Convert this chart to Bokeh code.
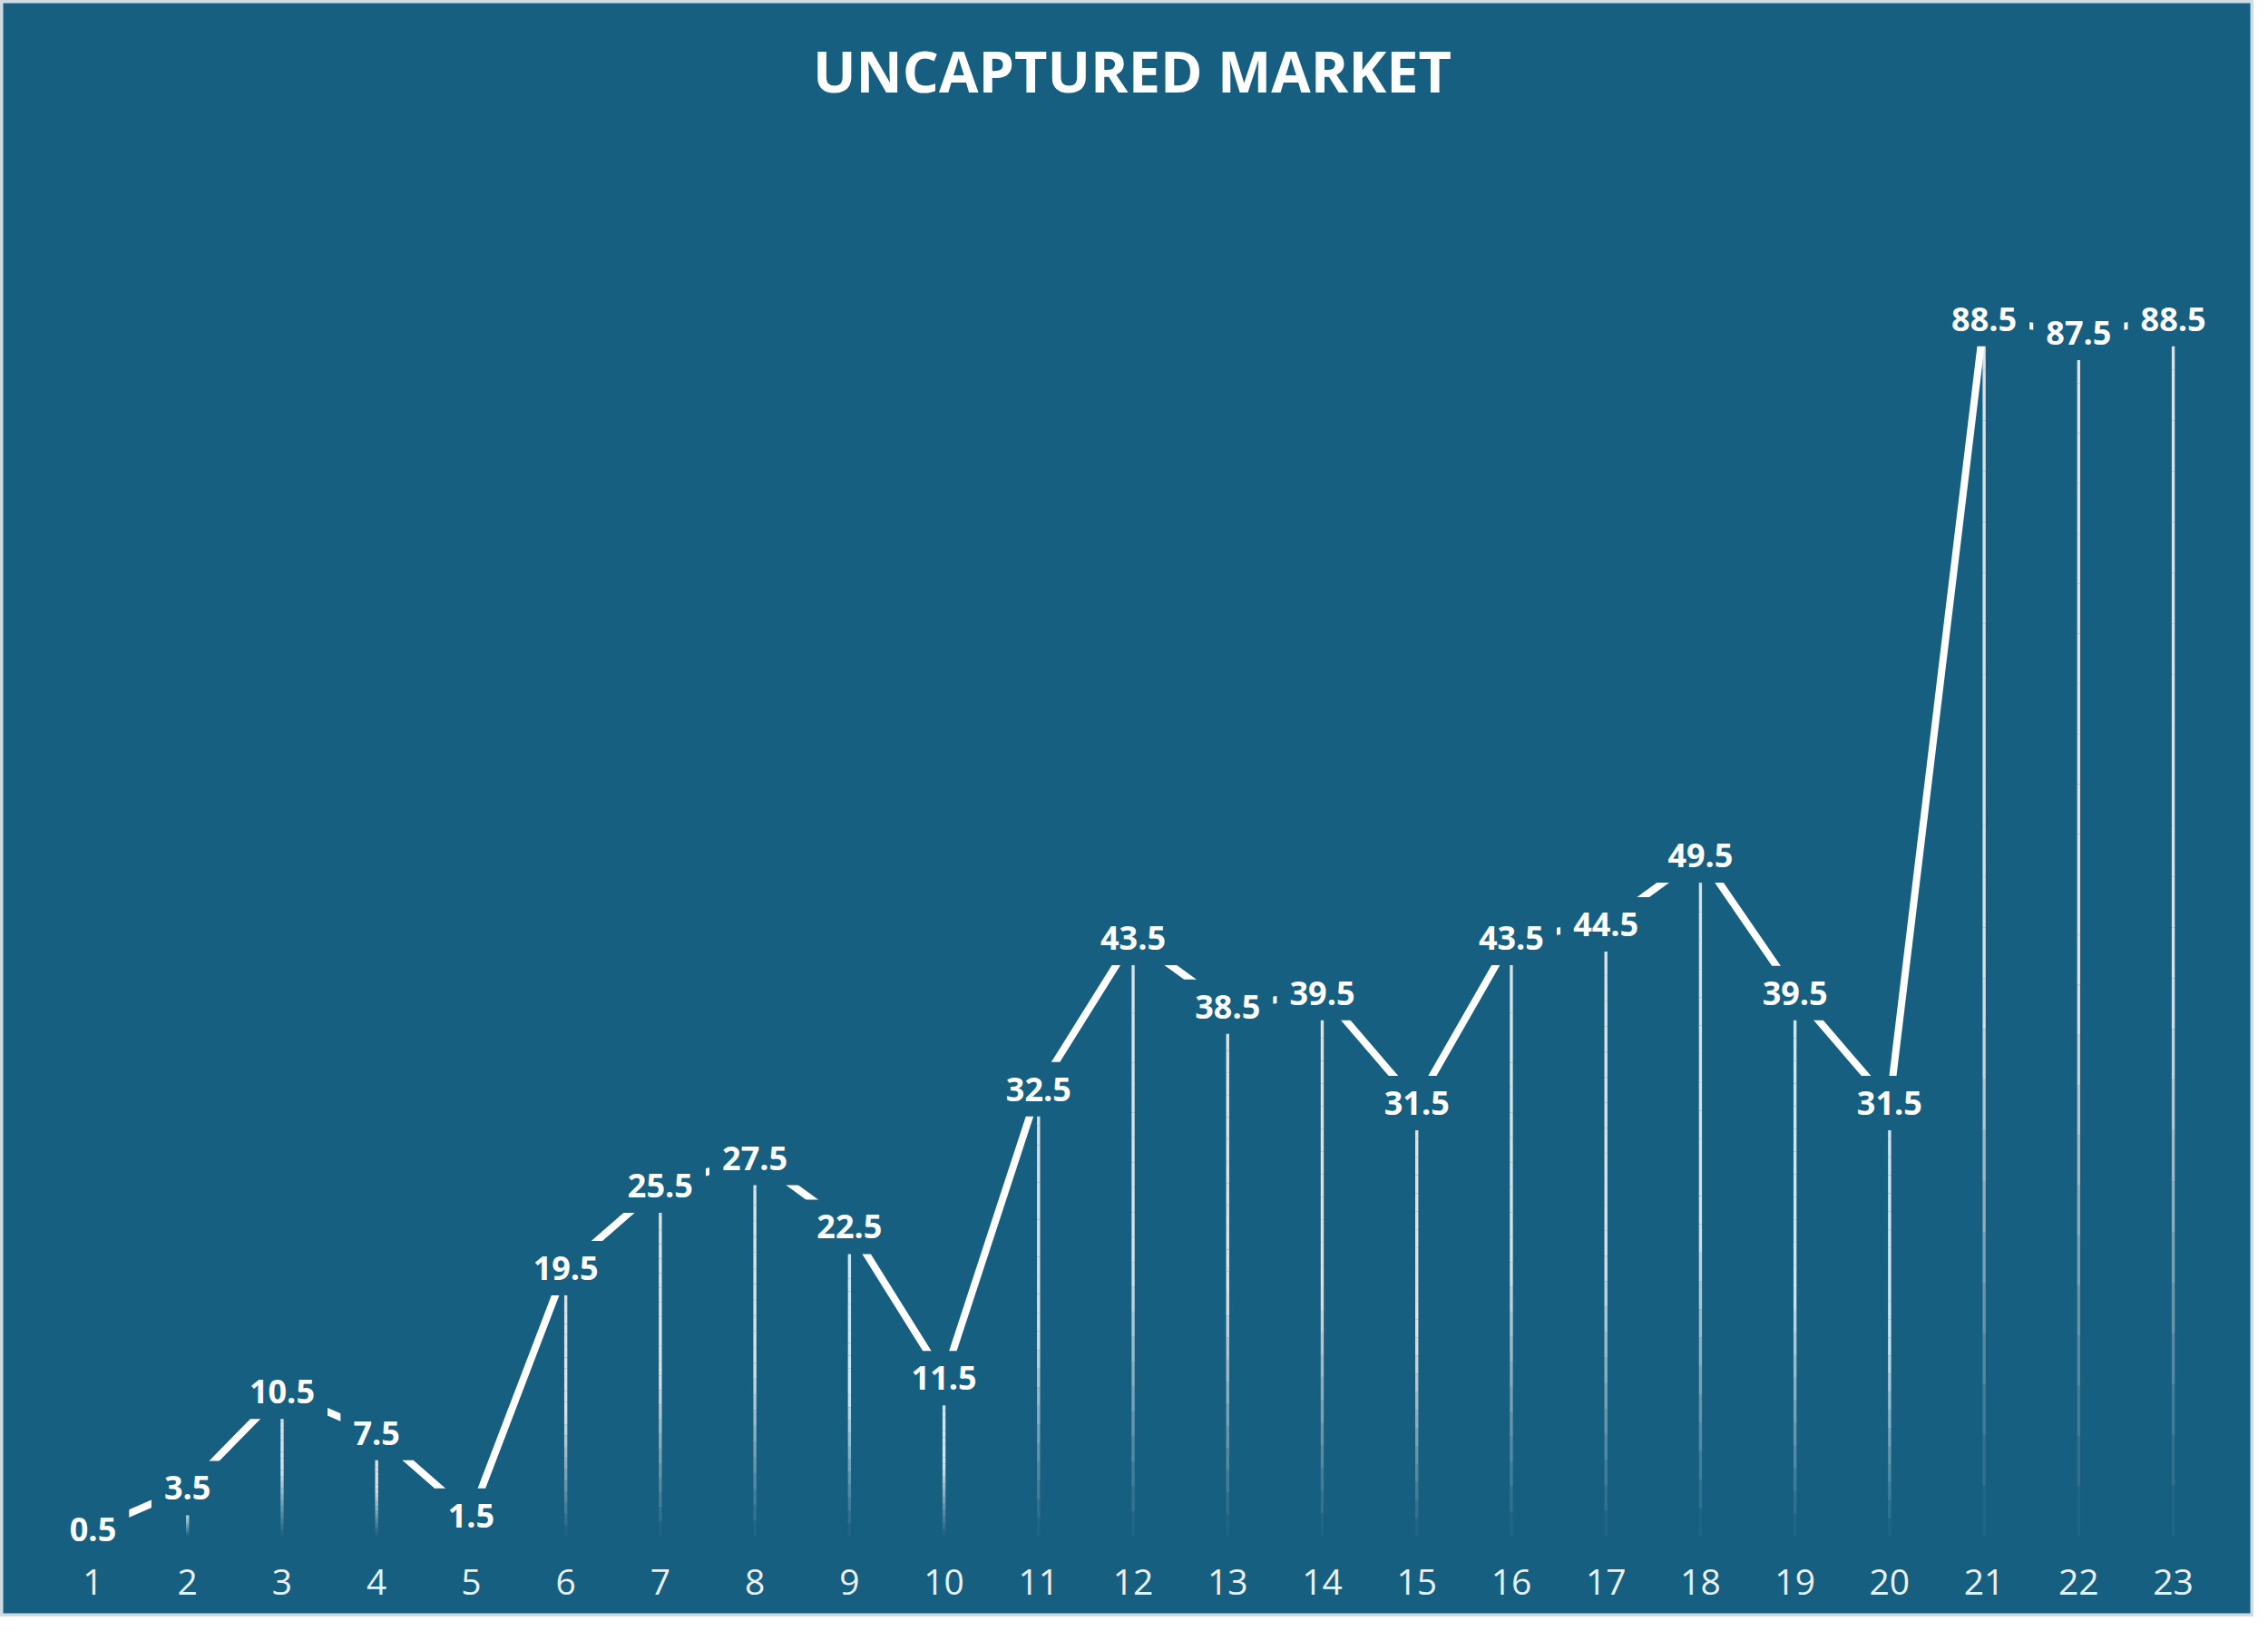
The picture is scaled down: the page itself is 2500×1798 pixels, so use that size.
from bokeh.plotting import figure
from bokeh.models import Range1d, ColumnDataSource
from bokeh.core.properties import value
from bokeh.embed import file_html
from bokeh.resources import INLINE

# ---- data ----
periods = list(range(1, 24))
market = [0.5, 3.5, 10.5, 7.5, 1.5, 19.5, 25.5, 27.5, 22.5, 11.5, 32.5, 43.5,
          38.5, 39.5, 31.5, 43.5, 44.5, 49.5, 39.5, 31.5, 88.5, 87.5, 88.5]
tick_labels = [str(i) for i in periods]
title_text = "UNCAPTURED MARKET"

# ---- style ----
BG = "#175f80"
W, H = 2484, 1782
PX_X = 104.23      # px per period
PX_Y = 15.16       # px per unit
ZERO_Y = 1693      # px from top where value 0 sits

x0 = 1 - 102 / PX_X
x1 = x0 + W / PX_X
ytop = ZERO_Y / PX_Y
ybot = -(H - ZERO_Y) / PX_Y

p = figure(width=W, height=H, output_backend="svg", toolbar_location=None,
           x_range=Range1d(x0, x1), y_range=Range1d(ybot, ytop),
           x_axis_location=None, y_axis_location=None,
           min_border_left=0, min_border_right=0,
           min_border_top=0, min_border_bottom=0)
p.background_fill_color = BG
p.border_fill_color = BG
p.outline_line_color = "#cfdbe3"
p.outline_line_width = 6
p.grid.visible = False

# drop lines with fading toward the bottom
N = 24
sx0, sy0, sx1, sy1, salpha = [], [], [], [], []
for x, v in zip(periods, market):
    for k in range(N):
        a = v * k / N
        b = v * (k + 1) / N
        t = (k + 0.5) / N
        sx0.append(x); sx1.append(x)
        sy0.append(a); sy1.append(b)
        salpha.append(0.82 * min(1.0, t / 0.45))
p.segment(x0=sx0, y0=sy0, x1=sx1, y1=sy1, line_color="white",
          line_alpha=salpha, line_width=3.4)

# main line
p.line(periods, market, line_color="white", line_width=8)

# label masks + labels
FS = 36
labels = [f"{v:.1f}" for v in market]
widths = [FS * sum(0.572 if c.isdigit() else 0.29 for c in s) + 28 for s in labels]
src = ColumnDataSource(dict(x=periods, y=market, t=labels, w=widths))
p.rect(x="x", y="y", width="w", height=60, width_units="screen",
       height_units="screen", fill_color=BG, line_color=None, source=src)
p.text(x="x", y="y", text="t", source=src, text_color="white",
       text_font=value("Open Sans"), text_font_style="bold",
       text_font_size=f"{FS}px", text_align="center", text_baseline="middle")

# category labels along the bottom
tick_y = -(1743 - ZERO_Y) / PX_Y
p.text(x=periods, y=[tick_y] * len(periods), text=tick_labels,
       text_color="#e9f0f4", text_font=value("Open Sans"),
       text_font_size="39px", text_align="center", text_baseline="middle")

# title
tx = x0 + 1247.5 / PX_X
ty = (ZERO_Y - 77) / PX_Y
p.text(x=[tx], y=[ty], text=[title_text], text_color="white",
       text_font=value("Open Sans"), text_font_style="bold",
       text_font_size="63px", text_align="center", text_baseline="middle")

open("out.html", "w").write(file_html(p, INLINE))
